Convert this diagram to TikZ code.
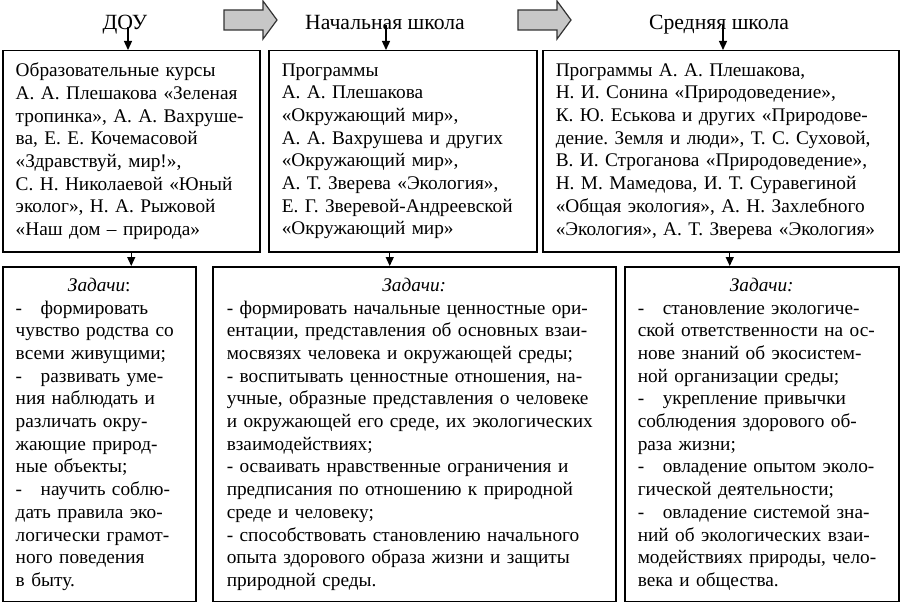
\documentclass[tikz,border=0pt]{standalone}
\usepackage{fontspec}
\setmainfont{Liberation Serif}
\usetikzlibrary{arrows.meta}
\setlength{\parindent}{0pt}
\frenchspacing
\newcommand{\dashtab}{\makebox[25pt][l]{-}}

\begin{document}
\begin{tikzpicture}[x=1pt,y=-1pt,
	box/.style={draw,line width=1.5pt,anchor=north west,inner sep=0pt,align=left,font=\fontsize{19.3}{22.7}\selectfont},
	title/.style={anchor=base,inner sep=0pt,font=\fontsize{21.7}{24}\selectfont},
	arr/.style={-{Triangle[length=9pt,width=8pt]},line width=1.3pt}]
	\useasboundingbox (0,0) rectangle (900,602);
	\foreach \x in {224,518}
	{
		\filldraw[fill=black!22,draw=black!80,line width=1.2pt] (\x,10) -- (\x+39,10) -- (\x+39,1) -- (\x+53,20) -- (\x+39,39) -- (\x+39,30) -- (\x,30) -- cycle;
	}
	\node[title] (dou) at (125,30) {ДОУ};
	\node[title] (nach) at (385,30) {Начальная школа};
	\node[title] (sred) at (719,30) {Средняя школа};
	\node[box,minimum width=257pt,minimum height=201pt,text width=231pt] (prog1) at (2,50) {Образовательные курсы\\
		А. А. Плешакова «Зеленая\\
		тропинка», А. А. Вахруше-\\
		ва, Е. Е. Кочемасовой\\
		«Здравствуй, мир!»,\\
		С. Н. Николаевой «Юный\\
		эколог», Н. А. Рыжовой\\
		«Наш дом – природа»};
	\node[box,minimum width=268pt,minimum height=201pt,text width=242pt] (prog2) at (268,50) {Программы\\
		А. А. Плешакова\\
		«Окружающий мир»,\\
		А. А. Вахрушева и других\\
		«Окружающий мир»,\\
		А. Т. Зверева «Экология»,\\
		Е. Г. Зверевой-Андреевской\\
		«Окружающий мир»};
	\node[box,minimum width=356pt,minimum height=201pt,text width=330pt] (prog3) at (542,50) {Программы А. А. Плешакова,\\
		Н. И. Сонина «Природоведение»,\\
		К. Ю. Еськова и других «Природове-\\
		дение. Земля и люди», Т. С. Суховой,\\
		В. И. Строганова «Природоведение»,\\
		Н. М. Мамедова, И. Т. Суравегиной\\
		«Общая экология», А. Н. Захлебного\\
		«Экология», А. Т. Зверева «Экология»};
	\node[box,minimum width=193pt,minimum height=335pt,text width=167pt] (task1) at (2,266) {\makebox[\hsize]{\textit{Задачи}:}\\
		\dashtab формировать\\
		чувство родства со\\
		всеми живущими;\\
		\dashtab развивать уме-\\
		ния наблюдать и\\
		различать окру-\\
		жающие природ-\\
		ные объекты;\\
		\dashtab научить соблю-\\
		дать правила эко-\\
		логически грамот-\\
		ного поведения\\
		в быту.};
	\node[box,minimum width=403pt,minimum height=335pt,text width=375pt] (task2) at (212,266) {\makebox[\hsize]{\textit{Задачи:}}\\
		- формировать начальные ценностные ори-\\
		ентации, представления об основных взаи-\\
		мосвязях человека и окружающей среды;\\
		- воспитывать ценностные отношения, на-\\
		учные, образные представления о человеке\\
		и окружающей его среде, их экологических\\
		взаимодействиях;\\
		- осваивать нравственные ограничения и\\
		предписания по отношению к природной\\
		среде и человеку;\\
		- способствовать становлению начального\\
		опыта здорового образа жизни и защиты\\
		природной среды.};
	\node[box,minimum width=274pt,minimum height=335pt,text width=248pt] (task3) at (624,266) {\makebox[\hsize]{\textit{Задачи:}}\\
		\dashtab становление экологиче-\\
		ской ответственности на ос-\\
		нове знаний об экосистем-\\
		ной организации среды;\\
		\dashtab укрепление привычки\\
		соблюдения здорового об-\\
		раза жизни;\\
		\dashtab овладение опытом эколо-\\
		гической деятельности;\\
		\dashtab овладение системой зна-\\
		ний об экологических взаи-\\
		модействиях природы, чело-\\
		века и общества.};
	\draw[arr] ([xshift=3pt,yshift=3pt]dou.base) -- ([xshift=3pt]dou.base |- prog1.north);
	\draw[arr] ([xshift=1pt,yshift=5pt]nach.base) -- ([xshift=1pt]nach.base |- prog2.north);
	\draw[arr] ([xshift=4pt,yshift=5pt]sred.base) -- ([xshift=4pt]sred.base |- prog3.north);
	\draw[arr] (prog1.south) -- (prog1.south |- task1.north);
	\draw[arr] ([xshift=-13pt]prog2.south) -- ([xshift=-13pt]prog2.south |- task2.north);
	\draw[arr] ([xshift=9pt]prog3.south) -- ([xshift=9pt]prog3.south |- task3.north);
\end{tikzpicture}
\end{document}
